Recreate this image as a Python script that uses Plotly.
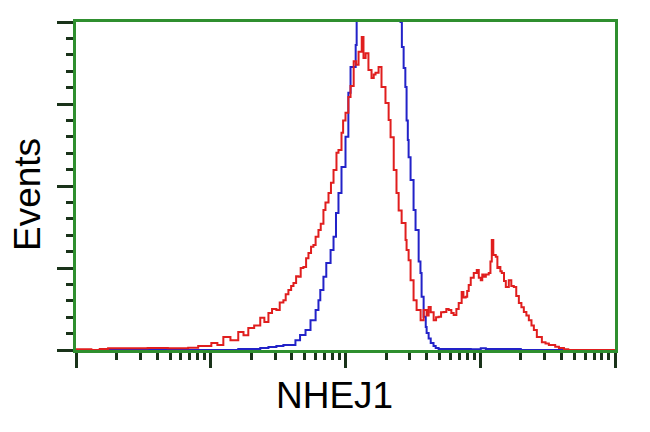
import plotly.graph_objects as go

# Fluorescence intensity (log scale) and event counts (% of axis height)
red_x = [1.0, 1.3, 1.5, 1.73, 2.4, 3.4, 4.8, 6.8, 8.07, 10.1, 11.2, 12.4, 14.0, 16.0, 17.5, 19.0,
         21.0, 23.3, 25.0, 26.8, 28.5, 30.7, 32.5, 34.6, 36.0, 37.7, 39.5, 41.1, 43.0, 44.7, 46.5,
         48.7, 51.0, 53.1, 55.5, 57.8, 60.0, 63.0, 65.5, 68.6, 71.0, 74.8, 78.0, 81.5, 85.7, 88.7,
         93.4, 96.0, 100, 105, 109, 115, 120, 125, 132, 136, 141, 148, 156, 162, 167, 176, 185,
         198, 209, 216, 228, 239, 248, 261, 279, 284, 294, 304, 320, 337, 361, 380, 400, 414,
         429, 451, 470, 491, 512, 535, 560, 583, 610, 635, 665, 692, 728, 750, 780, 800, 821,
         850, 895, 942, 975, 1009, 1035, 1062, 1100, 1156, 1190, 1218, 1250, 1304, 1340, 1374,
         1410, 1445, 1500, 1548, 1629, 1700, 1775, 1850, 1934, 2020, 2106, 2200, 2294, 2400,
         2500, 2630, 2866, 3050, 3229, 3402, 3600, 3836, 4180, 4500, 10000]
red_y = [0.2, 0.0, 0.3, 0.5, 0.5, 0.6, 0.5, 0.7, 1.2, 2.1, 1.5, 4.0, 3.0, 5.5, 4.5, 6.7,
         7.5, 9.8, 8.5, 11.3, 12.5, 12.2, 14.5, 15.2, 17.0, 18.3, 19.5, 20.4, 22.5, 22.3, 25.0,
         25.3, 28.0, 29.6, 31.5, 32.0, 34.5, 36.6, 38.5, 42.7, 45.0, 47.9, 51.0, 54.9, 60.1, 61.0,
         66.2, 70.0, 72.3, 77.1, 80.5, 88.0, 87.0, 90.9, 95.4, 89.0, 90.5, 85.4, 82.9, 84.0, 84.5,
         86.3, 80.2, 75.3, 70.1, 64.9, 54.9, 47.9, 42.5, 38.7, 33.5, 30.5, 27.4, 21.3, 15.2, 12.2,
         9.1, 12.2, 10.5, 13.1, 11.5, 9.1, 10.0, 10.1, 11.5, 11.6, 12.5, 12.2, 11.3, 10.7, 12.5,
         14.3, 17.7, 16.0, 16.2, 18.0, 19.8, 22.0, 23.5, 24.4, 22.0, 21.3, 23.0, 22.3, 23.0, 23.5,
         27.0, 33.5, 29.0, 28.4, 25.0, 25.3, 24.0, 23.5, 21.0, 19.2, 21.3, 19.5, 19.2, 16.5, 14.3,
         13.0, 11.6, 10.5, 9.1, 7.5, 6.1, 4.0, 2.4, 2.0, 1.5, 1.5, 1.0, 0.6, 0.2, 0.0, 0.0]

blue_x = [1.0, 2.0, 4.0, 8.0, 12.0, 16.0, 19.0, 23.3, 26.8, 30.7, 34.6, 38.0, 42.5, 46.0, 50.5,
          55.0, 60.0, 63.0, 65.0, 68.6, 72.0, 77.5, 81.5, 85.0, 88.7, 93.4, 100, 105, 109, 119,
          121, 140, 160, 190, 220, 245, 256, 262, 270, 278, 284, 290, 294, 304, 320, 331, 349,
          360, 367, 380, 394, 400, 414, 429, 450, 467, 491, 540, 700, 850, 1009, 1100, 1300,
          2000, 10000]
blue_y = [0.0, 0.0, 0.0, 0.0, 0.0, 0.3, 0.3, 0.6, 0.9, 1.2, 1.5, 1.5, 3.0, 4.6, 6.1,
          9.1, 12.2, 15.2, 18.3, 22.3, 26.5, 30.5, 34.5, 41.8, 47.9, 55.8, 65.0, 78.4, 86.3, 93.0,
          115, 120, 125, 122, 115, 105, 100, 92.4, 86.0, 80.2, 70.0, 64.0, 58.8, 51.8, 42.7, 36.6, 27.0,
          23.5, 16.2, 10.1, 7.0, 5.2, 3.5, 2.1, 1.2, 0.6, 0.3, 0.3, 0.3, 0.2, 0.5, 0.3, 0.3,
          0.0, 0.0]

x_major = [1, 10, 100, 1000, 10000]
x_minor = [m * d for d in [1, 10, 100, 1000] for m in range(2, 10)]
y_major = [0, 25, 50, 75, 100]
y_minor = [v for v in range(0, 101, 5) if v % 25 != 0]

GREEN = "#2f8f2f"
TICK = "#1a331a"

fig = go.Figure()
fig.add_trace(go.Scatter(x=blue_x, y=blue_y, mode="lines", line_shape="hv",
                         line=dict(color="#2222c8", width=2), showlegend=False))
fig.add_trace(go.Scatter(x=red_x, y=red_y, mode="lines", line_shape="hv",
                         line=dict(color="#e01e1e", width=2), showlegend=False))

fig.update_layout(
    width=634, height=416,
    margin=dict(l=68, r=27, t=14, b=74),
    paper_bgcolor="white", plot_bgcolor="white",
    font=dict(family="Liberation Sans, Arial, sans-serif", color="black"),
    xaxis=dict(type="log", range=[0, 4], showgrid=False, zeroline=False,
               showline=True, linecolor=GREEN, linewidth=2.5, mirror=True,
               tickmode="array", tickvals=x_major, showticklabels=False,
               ticks="outside", ticklen=15, tickwidth=2.5, tickcolor=TICK,
               minor=dict(tickmode="array", tickvals=x_minor, ticks="outside",
                          ticklen=7, tickwidth=2.5, tickcolor=TICK, showgrid=False)),
    yaxis=dict(range=[0, 100], showgrid=False, zeroline=False,
               showline=True, linecolor=GREEN, linewidth=2.5, mirror=True,
               tickmode="array", tickvals=y_major, showticklabels=False,
               ticks="outside", ticklen=16, tickwidth=2.5, tickcolor=TICK,
               minor=dict(tickmode="array", tickvals=y_minor, ticks="outside",
                          ticklen=7, tickwidth=2.5, tickcolor=TICK, showgrid=False)),
    annotations=[
        dict(text="Events", xref="paper", yref="paper", x=-0.089, y=0.4726,
             xanchor="center", yanchor="middle", textangle=-90, showarrow=False,
             font=dict(size=37, color="black")),
        dict(text="NHEJ1", xref="paper", yref="paper", x=0.4787, y=-0.14,
             xanchor="center", yanchor="middle", showarrow=False,
             font=dict(size=37, color="black")),
    ],
)

fig.write_html("out.html")
